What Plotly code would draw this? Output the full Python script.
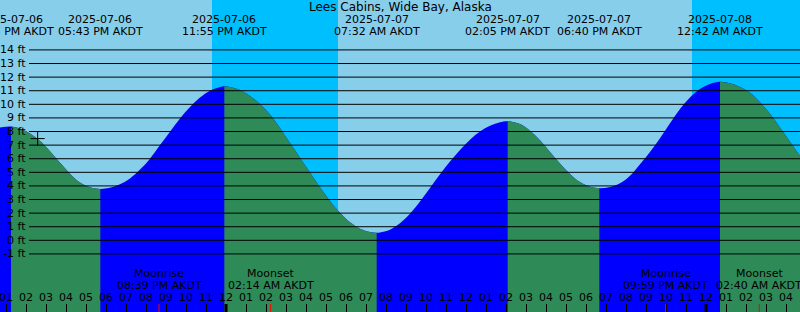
import plotly.graph_objects as go
import pandas as pd
from datetime import datetime

# ---------------- data ----------------
station = "Lees Cabins, Wide Bay, Alaska"
tz_name = "AKDT"
view_start = "2025-07-06 12:42"
view_end = "2025-07-08 04:42"

extreme_times = ["2025-07-06 13:15", "2025-07-06 17:43", "2025-07-06 23:55",
                 "2025-07-07 07:32", "2025-07-07 14:05", "2025-07-07 18:40",
                 "2025-07-08 00:42"]
extreme_ft = [8.37, 3.78, 11.32, 0.56, 8.76, 3.83, 11.66]
extreme_kind = ["high", "low", "high", "low", "high", "low", "high"]

sample_times = [
    "2025-07-06 12:42", "2025-07-06 13:42", "2025-07-06 14:12", "2025-07-06 14:42",
    "2025-07-06 15:12", "2025-07-06 15:42", "2025-07-06 16:12", "2025-07-06 16:42",
    "2025-07-06 17:12", "2025-07-06 18:12", "2025-07-06 18:42", "2025-07-06 19:12",
    "2025-07-06 19:42", "2025-07-06 20:12", "2025-07-06 20:42", "2025-07-06 21:12",
    "2025-07-06 21:42", "2025-07-06 22:12", "2025-07-06 22:42", "2025-07-06 23:12",
    "2025-07-06 23:42", "2025-07-07 00:12", "2025-07-07 00:42", "2025-07-07 01:12",
    "2025-07-07 01:42", "2025-07-07 02:12", "2025-07-07 02:42", "2025-07-07 03:12",
    "2025-07-07 03:42", "2025-07-07 04:12", "2025-07-07 04:42", "2025-07-07 05:12",
    "2025-07-07 05:42", "2025-07-07 06:12", "2025-07-07 06:42", "2025-07-07 07:12",
    "2025-07-07 07:42", "2025-07-07 08:12", "2025-07-07 08:42", "2025-07-07 09:12",
    "2025-07-07 09:42", "2025-07-07 10:12", "2025-07-07 10:42", "2025-07-07 11:12",
    "2025-07-07 11:42", "2025-07-07 12:12", "2025-07-07 12:42", "2025-07-07 13:12",
    "2025-07-07 13:42", "2025-07-07 14:42", "2025-07-07 15:12", "2025-07-07 15:42",
    "2025-07-07 16:12", "2025-07-07 16:42", "2025-07-07 17:12", "2025-07-07 17:42",
    "2025-07-07 18:12", "2025-07-07 19:12", "2025-07-07 19:42", "2025-07-07 20:12",
    "2025-07-07 20:42", "2025-07-07 21:12", "2025-07-07 21:42", "2025-07-07 22:12",
    "2025-07-07 22:42", "2025-07-07 23:12", "2025-07-07 23:42", "2025-07-08 00:12",
    "2025-07-08 01:12", "2025-07-08 01:42", "2025-07-08 02:12", "2025-07-08 02:42",
    "2025-07-08 03:12", "2025-07-08 03:42", "2025-07-08 04:12", "2025-07-08 04:42",
]
sample_ft = [
    8.30, 8.22, 7.85, 7.30,
    6.55, 5.70, 4.90, 4.25,
    3.90, 3.86, 4.12, 4.55,
    5.20, 6.00, 7.00, 7.98,
    8.95, 9.80, 10.50, 11.00,
    11.27, 11.28, 11.05, 10.62,
    10.02, 9.25, 8.25, 7.15,
    6.08, 4.98, 3.90, 2.90,
    2.02, 1.32, 0.86, 0.62,
    0.58, 0.78, 1.25, 1.95,
    2.85, 3.85, 4.85, 5.80,
    6.65, 7.40, 8.00, 8.42,
    8.68, 8.55, 8.05, 7.35,
    6.50, 5.65, 4.88, 4.28,
    3.93, 3.92, 4.20, 4.75,
    5.60, 6.50, 7.50, 8.60,
    9.65, 10.50, 11.12, 11.50,
    11.55, 11.28, 10.85, 10.15,
    9.30, 8.30, 7.25, 6.20,
]

sun_set_times = ["2025-07-06 23:18", "2025-07-07 23:18"]
sun_rise_times = ["2025-07-07 05:36", "2025-07-08 05:36"]

moon_times = ["2025-07-06 20:39", "2025-07-07 02:14", "2025-07-07 21:59", "2025-07-08 02:40"]
moon_events = ["Moonrise", "Moonset", "Moonrise", "Moonset"]

midnight_times = ["2025-07-07 00:00", "2025-07-08 00:00"]

now_time = "2025-07-06 14:35"
now_ft = 7.48

depth_ticks = list(range(-1, 15))
y_min, y_max = -5.27, 17.67

# ---------------- styles ----------------
DAY = "#87CEEB"
NIGHT = "#00BFFF"
RISE = "#0000FF"
FALL = "#2E8B57"
FONT = "DejaVu Sans"

def P(s):
    return datetime.strptime(s, "%Y-%m-%d %H:%M")

pts = sorted([(P(t), v) for t, v in zip(sample_times, sample_ft)] +
             [(P(t), v) for t, v in zip(extreme_times, extreme_ft)])
all_t = [p[0] for p in pts]
all_v = [p[1] for p in pts]

fig = go.Figure()

def area(ts, vs, color):
    fig.add_trace(go.Scatter(x=ts, y=[y_min] * len(ts), mode="lines",
                             line=dict(width=0), hoverinfo="skip", showlegend=False))
    fig.add_trace(go.Scatter(x=ts, y=vs, mode="lines",
                             line=dict(width=0, shape="spline", smoothing=1),
                             fill="tonexty", fillcolor=color,
                             hoverinfo="skip", showlegend=False))

area(all_t, all_v, RISE)

ext = [(P(t), k) for t, k in zip(extreme_times, extreme_kind)]
start_dt = P(view_start)
end_dt = P(view_end)
for i, (t, k) in enumerate(ext):
    if k != "high":
        continue
    t_next = ext[i + 1][0] if i + 1 < len(ext) else end_dt
    seg = [(a, b) for a, b in zip(all_t, all_v) if t <= a <= t_next]
    area([s[0] for s in seg], [s[1] for s in seg], FALL)

fig.add_trace(go.Scatter(x=[P(now_time)], y=[now_ft], mode="markers",
                         marker=dict(symbol="cross-thin", size=10,
                                     line=dict(color="black", width=1)),
                         hoverinfo="skip", showlegend=False))

shapes = []
for s, r in zip(sun_set_times, sun_rise_times):
    shapes.append(dict(type="rect", layer="below", xref="x", yref="paper",
                       x0=P(s), x1=min(P(r), end_dt), y0=0, y1=1,
                       fillcolor=NIGHT, line=dict(width=0)))
for d in depth_ticks:
    shapes.append(dict(type="line", xref="paper", yref="y", x0=29 / 800, x1=1,
                       y0=d, y1=d, line=dict(color="black", width=1)))
for m in midnight_times:
    shapes.append(dict(type="line", xref="x", yref="paper", x0=P(m), x1=P(m),
                       y0=0, y1=8 / 312, line=dict(color="black", width=3)))
for m in moon_times:
    shapes.append(dict(type="line", xref="x", yref="paper", x0=P(m), x1=P(m),
                       y0=0, y1=8 / 312, line=dict(color="red", width=1)))

ann = []
txt = dict(family=FONT, size=11, color="black")
ann.append(dict(text=station, xref="paper", yref="paper", x=0.5, y=1 - 7 / 312,
                yanchor="middle", showarrow=False,
                font=dict(family=FONT, size=12, color="black")))
for t in extreme_times:
    d = P(t)
    ann.append(dict(text=d.strftime("%Y-%m-%d"), xref="x", yref="paper", x=d,
                    y=1 - 19 / 312, yanchor="middle", showarrow=False, font=txt))
    ann.append(dict(text=d.strftime("%I:%M %p ") + tz_name, xref="x", yref="paper", x=d,
                    y=1 - 31.5 / 312, yanchor="middle", showarrow=False, font=txt))
for t, e in zip(moon_times, moon_events):
    d = P(t)
    ann.append(dict(text=e, xref="x", yref="paper", x=d, y=1 - 273 / 312,
                    yanchor="middle", showarrow=False, font=txt))
    ann.append(dict(text=d.strftime("%I:%M %p ") + tz_name, xref="x", yref="paper", x=d,
                    y=1 - 285 / 312, yanchor="middle", showarrow=False, font=txt))
for d in depth_ticks:
    ann.append(dict(text=f"{d} ft", xref="paper", yref="y", x=28 / 800, y=d,
                    xanchor="right", yanchor="middle", showarrow=False, font=txt))
# hour labels along the time axis
for h in pd.date_range(start_dt.replace(minute=0), end_dt, freq="h"):
    if h < start_dt:
        continue
    ann.append(dict(text=h.strftime("%I"), xref="x", yref="paper", x=h,
                    y=1 - 297 / 312, yanchor="middle", showarrow=False, font=txt))

fig.update_layout(
    width=800, height=312,
    margin=dict(l=0, r=0, t=0, b=0, pad=0),
    paper_bgcolor=DAY, plot_bgcolor=DAY,
    shapes=shapes, annotations=ann,
    xaxis=dict(type="date", range=[start_dt, end_dt],
               tickmode="linear", tick0="2025-07-06 00:00", dtick=3600000,
               ticks="inside", ticklen=8, tickwidth=1, tickcolor="black",
               showticklabels=False, showgrid=False, zeroline=False,
               showline=False, automargin=False, fixedrange=True),
    yaxis=dict(range=[y_min, y_max], showgrid=False, zeroline=False,
               showticklabels=False, ticks="", showline=False,
               automargin=False, fixedrange=True),
    showlegend=False,
)

fig.write_html("out.html")
